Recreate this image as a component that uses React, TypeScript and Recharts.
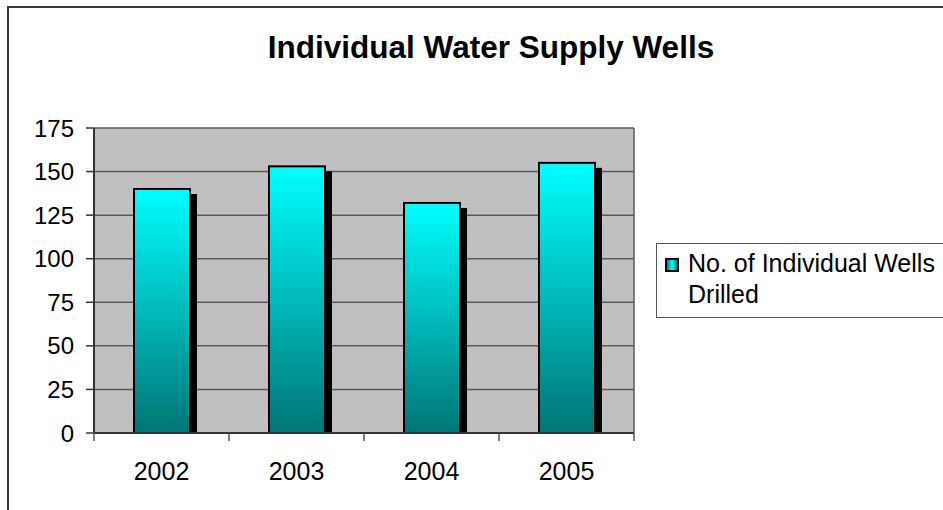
import { BarChart, Bar, XAxis, YAxis, CartesianGrid } from "recharts";

// chart data
const years = ["2002", "2003", "2004", "2005"];
const wellsDrilled = [140, 153, 132, 155];
const yTicks = [0, 25, 50, 75, 100, 125, 150, 175];
const seriesName = "No. of Individual Wells Drilled";
const chartTitle = "Individual Water Supply Wells";

const data = years.map((year, i) => ({ year, wells: wellsDrilled[i] }));

const FONT = "Arial, 'Liberation Sans', sans-serif";
const X_TICK_SIZE = 8;
const X_TICK_MARGIN = 21;

// bar with the little black drop shadow like the old excel charts
function ShadowBar(props: any) {
  const { x, y, width, height } = props;
  if (!height || height <= 0) return null;
  return (
    <g>
      <rect x={x + 7} y={y + 5} width={width} height={height - 5} fill="#000" />
      <rect
        x={x}
        y={y}
        width={width}
        height={height}
        fill="url(#wellGrad)"
        stroke="#000"
        strokeWidth={2}
      />
    </g>
  );
}

// excel puts the x tick marks between categories, not under them
function YearTick(props: any) {
  const { x, y, payload, index, visibleTicksCount } = props;
  const half = payload?.offset ?? 0;
  const top = y - X_TICK_MARGIN - X_TICK_SIZE;
  return (
    <g>
      <line x1={x - half} x2={x - half} y1={top} y2={top + X_TICK_SIZE} stroke="#555" strokeWidth={1.5} />
      {index === visibleTicksCount - 1 && (
        <line x1={x + half} x2={x + half} y1={top} y2={top + X_TICK_SIZE} stroke="#555" strokeWidth={1.5} />
      )}
      <text x={x} y={y} dy="0.71em" textAnchor="middle" fontSize={25} fontFamily={FONT} fill="#000">
        {payload.value}
      </text>
    </g>
  );
}

export default function App() {
  return (
    <div style={{ position: "absolute", left: 0, top: 0, width: 943, height: 510, background: "#fff", fontFamily: FONT }}>
      {/* outer chart frame */}
      <div
        style={{
          position: "absolute",
          left: 7,
          top: 6,
          width: 943,
          height: 520,
          borderLeft: "2px solid #3a3a3a",
          borderTop: "2px solid #3a3a3a",
        }}
      />
      <div
        style={{
          position: "absolute",
          left: 0,
          top: 32,
          width: 982,
          textAlign: "center",
          fontWeight: "bold",
          fontSize: 31.5,
          lineHeight: "31px",
          color: "#000",
        }}
      >
        {chartTitle}
      </div>

      <div style={{ position: "absolute", left: 0, top: 0 }}>
        <BarChart
          width={943}
          height={510}
          data={data}
          margin={{ top: 128, right: 309, left: 0, bottom: 0 }}
        >
          <defs>
            <linearGradient id="wellGrad" x1="0" y1="0" x2="0" y2="1">
              <stop offset="0%" stopColor="#00ffff" />
              <stop offset="100%" stopColor="#007575" />
            </linearGradient>
          </defs>
          <CartesianGrid
            fill="#c0c0c0"
            stroke="#5a5a5a"
            strokeWidth={1.5}
            vertical={true}
            verticalCoordinatesGenerator={({ offset }: any) => [offset.left + offset.width]}
          />
          <XAxis
            dataKey="year"
            height={77}
            axisLine={{ stroke: "#333", strokeWidth: 2 }}
            tickLine={false}
            tickSize={X_TICK_SIZE}
            tickMargin={X_TICK_MARGIN}
            tick={<YearTick />}
          />
          <YAxis
            width={94}
            domain={[0, 175]}
            ticks={yTicks}
            interval={0}
            axisLine={{ stroke: "#333", strokeWidth: 2 }}
            tickSize={8}
            tickLine={{ stroke: "#333", strokeWidth: 1.5 }}
            tickMargin={12}
            tick={{ fill: "#000", fontSize: 24, fontFamily: FONT }}
          />
          <Bar
            dataKey="wells"
            name={seriesName}
            barSize={56}
            shape={ShadowBar}
            isAnimationActive={false}
          />
        </BarChart>
      </div>

      {/* legend */}
      <div
        style={{
          position: "absolute",
          left: 656,
          top: 243,
          width: 300,
          height: 75,
          border: "1.5px solid #555",
          boxSizing: "border-box",
          background: "#fff",
        }}
      >
        <div
          style={{
            position: "absolute",
            left: 8,
            top: 14,
            width: 10,
            height: 10,
            border: "2px solid #000",
            background: "linear-gradient(to right, #008080, #00ffff, #008080)",
          }}
        />
        <div
          style={{
            position: "absolute",
            left: 31,
            top: 4,
            width: 262,
            fontSize: 25,
            lineHeight: "31px",
            color: "#000",
          }}
        >
          {seriesName}
        </div>
      </div>
    </div>
  );
}
